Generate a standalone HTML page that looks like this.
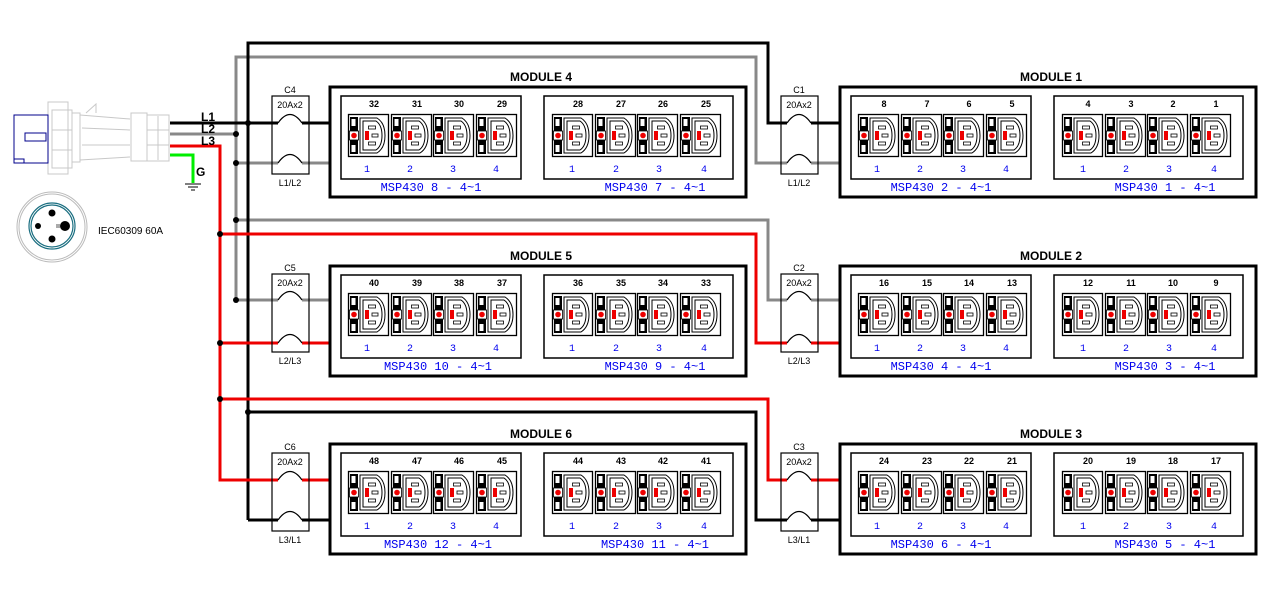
<!DOCTYPE html>
<html><head><meta charset="utf-8"><style>
html,body{margin:0;padding:0;background:#fff;width:1281px;height:592px;overflow:hidden}
svg{display:block}
.t{font-family:"Liberation Sans",sans-serif;font-weight:bold;fill:#000;text-anchor:middle}
.m{font-size:12px}
.n{font-size:9px}
.s{font-size:9px;font-weight:normal}
.b{font-family:"Liberation Mono",monospace;fill:#0000ee;text-anchor:middle}
.d{font-size:10px}
.l{font-size:12px}
</style></head><body>
<svg width="1281" height="592" viewBox="0 0 1281 592" xmlns="http://www.w3.org/2000/svg">
<defs>
<g id="out">
 <rect x="0.5" y="0.5" width="40" height="42" fill="#fff" stroke="#000" stroke-width="1.3"/>
 <rect x="2" y="3" width="8" height="14" fill="#000"/>
 <rect x="2" y="26" width="8" height="14" fill="#000"/>
 <rect x="3.5" y="5" width="4" height="7" fill="#fff"/>
 <rect x="3.5" y="31" width="4" height="7" fill="#fff"/>
 <rect x="1.5" y="17" width="9" height="9" fill="#fff" stroke="#000" stroke-width="0.8"/>
 <circle cx="6" cy="21.5" r="2.8" fill="#e00"/>
 <path d="M12 4 H29 Q37 9 37 21.5 Q37 34 29 39 H12 Z" fill="#fff" stroke="#000" stroke-width="1"/>
 <path d="M15 7 H28 Q34 11 34 21.5 Q34 32 28 36 H15 Z" fill="none" stroke="#000" stroke-width="1"/>
 <rect x="17" y="17" width="4" height="9" fill="#e00"/>
 <rect x="20.5" y="12" width="7" height="3" fill="none" stroke="#000" stroke-width="0.8"/>
 <rect x="24" y="20" width="6" height="3" fill="none" stroke="#000" stroke-width="0.8"/>
 <rect x="20.5" y="28" width="7" height="3" fill="none" stroke="#000" stroke-width="0.8"/>
</g>
<g id="mod">
 <rect x="0" y="0" width="416" height="110" fill="none" stroke="#000" stroke-width="3"/>
 <rect x="11" y="9" width="180" height="83" fill="none" stroke="#000" stroke-width="1.5"/>
 <rect x="214" y="9" width="189" height="83" fill="none" stroke="#000" stroke-width="1.5"/>
 <use href="#out" x="18" y="27"/><use href="#out" x="61" y="27"/><use href="#out" x="103" y="27"/><use href="#out" x="146" y="27"/>
 <use href="#out" x="222" y="27"/><use href="#out" x="265" y="27"/><use href="#out" x="307" y="27"/><use href="#out" x="350" y="27"/>
</g>
<g id="brk">
 <rect x="0" y="0" width="37" height="78" fill="#fff" stroke="#000" stroke-width="1.2"/>
 <path d="M6 27 Q18 12 30 27" fill="none" stroke="#000" stroke-width="1.2"/>
 <path d="M6 67 Q18 52 30 67" fill="none" stroke="#000" stroke-width="1.2"/>
</g>
</defs>

<!-- plug -->
<g fill="none" stroke="#c8c8c8" stroke-width="1">
 <rect x="48" y="102" width="20" height="72"/>
 <rect x="52" y="110" width="20" height="20"/>
 <rect x="52" y="130" width="20" height="20"/>
 <rect x="52" y="150" width="20" height="18"/>
 <path d="M72 113 L80 113 L80 162 L72 162"/>
 <path d="M80 115 L130 119 M80 160 L130 157 M82 128 L130 130 M82 145 L130 145"/>
 <path d="M86 113 L96 104 L96 113"/>
 <rect x="131" y="113" width="16" height="48"/>
 <rect x="147" y="115" width="22" height="46"/>
 <path d="M158 116 V160 M147 130 H169 M147 145 H169"/>
</g>
<rect x="14" y="115" width="34" height="48" fill="#fff" stroke="#00008b" stroke-width="1"/>
<rect x="25" y="133" width="21" height="8" fill="none" stroke="#00008b" stroke-width="1"/>
<rect x="14" y="159" width="10" height="4" fill="none" stroke="#00008b" stroke-width="1"/>
<!-- socket -->
<circle cx="52" cy="227" r="35" fill="none" stroke="#bbb" stroke-width="1"/>
<circle cx="52" cy="227" r="33" fill="none" stroke="#bbb" stroke-width="1"/>
<circle cx="52" cy="226" r="23" fill="none" stroke="#1a6e80" stroke-width="1.2"/>
<circle cx="52" cy="226" r="21" fill="none" stroke="#1a6e80" stroke-width="1.2"/>
<circle cx="52" cy="213" r="3.5" fill="#000"/>
<circle cx="38" cy="226" r="3" fill="#000"/>
<circle cx="65" cy="226" r="5" fill="#000"/>
<circle cx="52" cy="239" r="3.5" fill="#000"/>
<rect x="56" y="224" width="4" height="4" fill="#aaa"/>
<text x="98" y="234" font-family="Liberation Sans,sans-serif" font-size="10" fill="#000">IEC60309 60A</text>

<!-- wires -->
<g fill="none" stroke-width="3">
 <path d="M236 300 V57 H756 V163 H787" stroke="#888"/>
 <path d="M170 134 H236" stroke="#888"/>
 <path d="M236 163 H278" stroke="#888"/>
 <path d="M236 220 H768 V300 H787" stroke="#888"/>
 <path d="M236 300 H278" stroke="#888"/>
 <path d="M302 163 H330 M302 300 H330 M811 163 H840 M811 300 H840" stroke="#888"/>
 <path d="M248 520 V43 H768 V123 H787" stroke="#000"/>
 <path d="M170 123 H278" stroke="#000"/>
 <path d="M248 412 H756 V520 H787" stroke="#000"/>
 <path d="M248 520 H278" stroke="#000"/>
 <path d="M302 123 H330 M811 123 H840 M302 520 H330 M811 520 H840" stroke="#000"/>
 <path d="M170 146 H220 V480 H278" stroke="#e00"/>
 <path d="M220 234 H756 V343 H787" stroke="#e00"/>
 <path d="M220 343 H278" stroke="#e00"/>
 <path d="M220 399 H768 V480 H787" stroke="#e00"/>
 <path d="M302 343 H330 M811 343 H840 M302 480 H330 M811 480 H840" stroke="#e00"/>
 <path d="M170 155 H193 V183" stroke="#0e0"/>
</g>
<path d="M185 184 H201 M188 187 H198 M191 190 H195" stroke="#000" stroke-width="1"/>
<g fill="#000">
 <circle cx="248" cy="123" r="3"/><circle cx="236" cy="134" r="3"/><circle cx="236" cy="163" r="3"/>
 <circle cx="236" cy="220" r="3"/><circle cx="220" cy="234" r="3"/><circle cx="236" cy="300" r="3"/>
 <circle cx="220" cy="343" r="3"/><circle cx="220" cy="399" r="3"/><circle cx="248" cy="412" r="3"/>
</g>
<g font-family="Liberation Sans,sans-serif" font-weight="bold" font-size="12" fill="#000">
 <text x="201" y="121">L1</text><text x="201" y="133">L2</text><text x="201" y="145">L3</text><text x="196" y="176">G</text>
</g>

<!-- breakers -->
<g fill="none" stroke="#000" stroke-width="1.2">
 <rect x="272" y="96" width="37" height="78"/><rect x="781" y="96" width="37" height="78"/>
 <rect x="272" y="274" width="37" height="78"/><rect x="781" y="274" width="37" height="78"/>
 <rect x="272" y="453" width="37" height="78"/><rect x="781" y="453" width="37" height="78"/>
</g>
<g fill="none" stroke="#000" stroke-width="1.2">
 <path d="M278 123 Q290 106 302 123 M278 163 Q290 146 302 163 M787 123 Q799 106 811 123 M787 163 Q799 146 811 163"/>
 <path d="M278 300 Q290 283 302 300 M278 343 Q290 326 302 343 M787 300 Q799 283 811 300 M787 343 Q799 326 811 343"/>
 <path d="M278 480 Q290 463 302 480 M278 520 Q290 503 302 520 M787 480 Q799 463 811 480 M787 520 Q799 503 811 520"/>
</g>
<g class="t s">
 <text x="290" y="93">C4</text><text x="290" y="108">20Ax2</text><text x="290" y="186">L1/L2</text>
 <text x="799" y="93">C1</text><text x="799" y="108">20Ax2</text><text x="799" y="186">L1/L2</text>
 <text x="290" y="271">C5</text><text x="290" y="286">20Ax2</text><text x="290" y="364">L2/L3</text>
 <text x="799" y="271">C2</text><text x="799" y="286">20Ax2</text><text x="799" y="364">L2/L3</text>
 <text x="290" y="450">C6</text><text x="290" y="465">20Ax2</text><text x="290" y="543">L3/L1</text>
 <text x="799" y="450">C3</text><text x="799" y="465">20Ax2</text><text x="799" y="543">L3/L1</text>
</g>

<!-- modules -->
<use href="#mod" x="330" y="87"/><use href="#mod" x="840" y="87"/>
<use href="#mod" x="330" y="266"/><use href="#mod" x="840" y="266"/>
<use href="#mod" x="330" y="444"/><use href="#mod" x="840" y="444"/>

<g class="t m">
 <text x="541" y="81">MODULE 4</text><text x="1051" y="81">MODULE 1</text>
 <text x="541" y="260">MODULE 5</text><text x="1051" y="260">MODULE 2</text>
 <text x="541" y="438">MODULE 6</text><text x="1051" y="438">MODULE 3</text>
</g>

<g class="t n">
 <text x="374" y="107">32</text><text x="417" y="107">31</text><text x="459" y="107">30</text><text x="502" y="107">29</text>
 <text x="578" y="107">28</text><text x="621" y="107">27</text><text x="663" y="107">26</text><text x="706" y="107">25</text>
 <text x="884" y="107">8</text><text x="927" y="107">7</text><text x="969" y="107">6</text><text x="1012" y="107">5</text>
 <text x="1088" y="107">4</text><text x="1131" y="107">3</text><text x="1173" y="107">2</text><text x="1216" y="107">1</text>

 <text x="374" y="286">40</text><text x="417" y="286">39</text><text x="459" y="286">38</text><text x="502" y="286">37</text>
 <text x="578" y="286">36</text><text x="621" y="286">35</text><text x="663" y="286">34</text><text x="706" y="286">33</text>
 <text x="884" y="286">16</text><text x="927" y="286">15</text><text x="969" y="286">14</text><text x="1012" y="286">13</text>
 <text x="1088" y="286">12</text><text x="1131" y="286">11</text><text x="1173" y="286">10</text><text x="1216" y="286">9</text>

 <text x="374" y="464">48</text><text x="417" y="464">47</text><text x="459" y="464">46</text><text x="502" y="464">45</text>
 <text x="578" y="464">44</text><text x="621" y="464">43</text><text x="663" y="464">42</text><text x="706" y="464">41</text>
 <text x="884" y="464">24</text><text x="927" y="464">23</text><text x="969" y="464">22</text><text x="1012" y="464">21</text>
 <text x="1088" y="464">20</text><text x="1131" y="464">19</text><text x="1173" y="464">18</text><text x="1216" y="464">17</text>
</g>

<g class="b d">
 <text x="367" y="172">1</text><text x="410" y="172">2</text><text x="453" y="172">3</text><text x="496" y="172">4</text>
 <text x="572" y="172">1</text><text x="616" y="172">2</text><text x="659" y="172">3</text><text x="704" y="172">4</text>
 <text x="877" y="172">1</text><text x="920" y="172">2</text><text x="963" y="172">3</text><text x="1006" y="172">4</text>
 <text x="1083" y="172">1</text><text x="1126" y="172">2</text><text x="1169" y="172">3</text><text x="1214" y="172">4</text>

 <text x="367" y="351">1</text><text x="410" y="351">2</text><text x="453" y="351">3</text><text x="496" y="351">4</text>
 <text x="572" y="351">1</text><text x="616" y="351">2</text><text x="659" y="351">3</text><text x="704" y="351">4</text>
 <text x="877" y="351">1</text><text x="920" y="351">2</text><text x="963" y="351">3</text><text x="1006" y="351">4</text>
 <text x="1083" y="351">1</text><text x="1126" y="351">2</text><text x="1169" y="351">3</text><text x="1214" y="351">4</text>

 <text x="367" y="529">1</text><text x="410" y="529">2</text><text x="453" y="529">3</text><text x="496" y="529">4</text>
 <text x="572" y="529">1</text><text x="616" y="529">2</text><text x="659" y="529">3</text><text x="704" y="529">4</text>
 <text x="877" y="529">1</text><text x="920" y="529">2</text><text x="963" y="529">3</text><text x="1006" y="529">4</text>
 <text x="1083" y="529">1</text><text x="1126" y="529">2</text><text x="1169" y="529">3</text><text x="1214" y="529">4</text>
</g>
<g class="b l">
 <text x="431" y="191">MSP430 8 - 4~1</text><text x="655" y="191">MSP430 7 - 4~1</text>
 <text x="941" y="191">MSP430 2 - 4~1</text><text x="1165" y="191">MSP430 1 - 4~1</text>
 <text x="438" y="370">MSP430 10 - 4~1</text><text x="655" y="370">MSP430 9 - 4~1</text>
 <text x="941" y="370">MSP430 4 - 4~1</text><text x="1165" y="370">MSP430 3 - 4~1</text>
 <text x="438" y="548">MSP430 12 - 4~1</text><text x="655" y="548">MSP430 11 - 4~1</text>
 <text x="941" y="548">MSP430 6 - 4~1</text><text x="1165" y="548">MSP430 5 - 4~1</text>
</g>
</svg>
</body></html>
